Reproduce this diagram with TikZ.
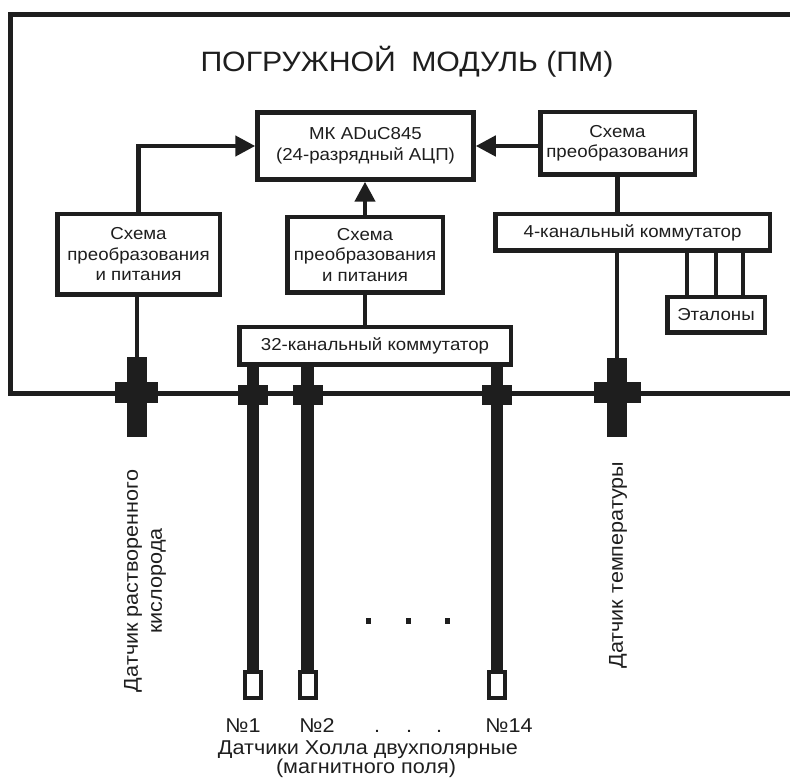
\documentclass[tikz,border=0pt]{standalone}
\usepackage{fontspec}
\setmainfont{Liberation Sans}[FakeStretch=1.08]
\usetikzlibrary{arrows.meta}
\definecolor{ink}{HTML}{1E1E1E}
\begin{document}
\begin{tikzpicture}[x=1pt,y=-1pt,
  box/.style={draw=ink, line width=4.5pt, fill=white, inner sep=0pt, align=center,
    font=\fontsize{17.3}{20.5}\selectfont, text=ink},
  sensor/.style={draw=ink, line width=4pt, fill=white, inner sep=0pt,
    minimum width=16pt, minimum height=26pt},
  wire/.style={draw=ink, line width=4.5pt},
  arr/.style={wire, -{Triangle[length=20pt,width=20pt]}},
  blk/.style={fill=ink, inner sep=0pt},
  lbl/.style={font=\fontsize{20}{24}\selectfont, text=ink, align=center, inner sep=0pt},
  dotsq/.style={fill=ink, inner sep=0pt, minimum width=5pt, minimum height=6pt},
]
\useasboundingbox (0,0) rectangle (790,783);
% frame of the submersible module
\draw[ink, line width=5pt] (790,14.5) -- (10.5,14.5) -- (10.5,393.5) -- (790,393.5);

\node[lbl, font=\fontsize{28}{32}\selectfont] (title) at (407,62) {ПОГРУЖНОЙ\hspace{0.55em}МОДУЛЬ (ПМ)};

\node[box, minimum width=216pt, minimum height=67pt] (mk) at (365.5,146) {МК ADuC845\\(24-разрядный АЦП)};
\node[box, minimum width=162.5pt, minimum height=80.5pt] (lb) at (138.5,254.5) {Схема\\преобразования\\и питания};
\node[box, minimum width=155.5pt, minimum height=75.5pt] (mb) at (365,255) {Схема\\преобразования\\и питания};
\node[box, minimum width=154.5pt, minimum height=62.5pt] (rt) at (617.5,143.5) {Схема\\преобразования};
\node[box, minimum width=274.5pt, minimum height=36.5pt] (c4) at (632.5,232.5) {4-канальный коммутатор};
\node[box, minimum width=97.5pt, minimum height=35.5pt] (et) at (716,315) {Эталоны};
\node[box, minimum width=271.5pt, minimum height=37.5pt] (c32) at (375,346) {32-канальный коммутатор};

% arrows to the microcontroller
\draw[arr] (lb.north) |- (mk.west);
\draw[arr] (rt.west |- mk.east) -- (mk.east);
\draw[arr] (mb.north) -- (mb.north |- mk.south);
\draw[wire] (rt.south) -- (rt.south |- c4.north);
\draw[wire] (mb.south) -- (mb.south |- c32.north);

% references
\coordinate (e1) at ([xshift=-29pt]et.north);
\coordinate (e2) at (et.north);
\coordinate (e3) at ([xshift=27pt]et.north);
\foreach \e in {e1,e2,e3} \draw[wire] (\e) -- (\e |- c4.south);

% oxygen sensor plug
\node[blk, minimum width=20pt, minimum height=80pt] (obar) at (137,397) {};
\node[blk, minimum width=43pt, minimum height=21pt] (ocross) at (136.5,392.5) {};
\draw[wire] (obar.north |- lb.south) -- (obar.north);

% temperature sensor plug
\node[blk, minimum width=20pt, minimum height=79pt] (tbar) at (617,397.5) {};
\node[blk, minimum width=47pt, minimum height=21pt] (tcross) at (617.5,392.5) {};
\draw[wire] (tbar.north |- c4.south) -- (tbar.north);

% Hall sensors
\foreach \n/\x in {s1/253, s2/307.5, s14/497} {
  \node[sensor] (\n) at (\x,685) {};
  \draw[ink, line width=12.5pt] (\n.north |- c32.south) -- (\n.north);
  \node[blk, minimum width=30pt, minimum height=20pt] (\n x) at (\x,395) {};
}

\node[dotsq] (d1) at (368,621) {};
\node[dotsq] (d2) at (408,621) {};
\node[dotsq] (d3) at (447,621) {};

\node[lbl, anchor=base] (n1) at (243,732) {№1};
\node[lbl, anchor=base] (n2) at (317,732) {№2};
\node[lbl, anchor=base] (n14) at (509,732) {№14};
\node[lbl, anchor=base] (p1) at (377,732) {.};
\node[lbl, anchor=base] (p2) at (409,732) {.};
\node[lbl, anchor=base] (p3) at (439,732) {.};
\node[lbl, anchor=base] (hcap1) at (368,754) {Датчики Холла двухполярные};
\node[lbl, anchor=base] (hcap2) at (366,773) {(магнитного поля)};

\node[lbl, rotate=90] (olab) at (145,581) {Датчик растворенного\\кислорода};
\node[lbl, rotate=90] (tlab) at (618,565) {Датчик температуры};
\end{tikzpicture}
\end{document}
